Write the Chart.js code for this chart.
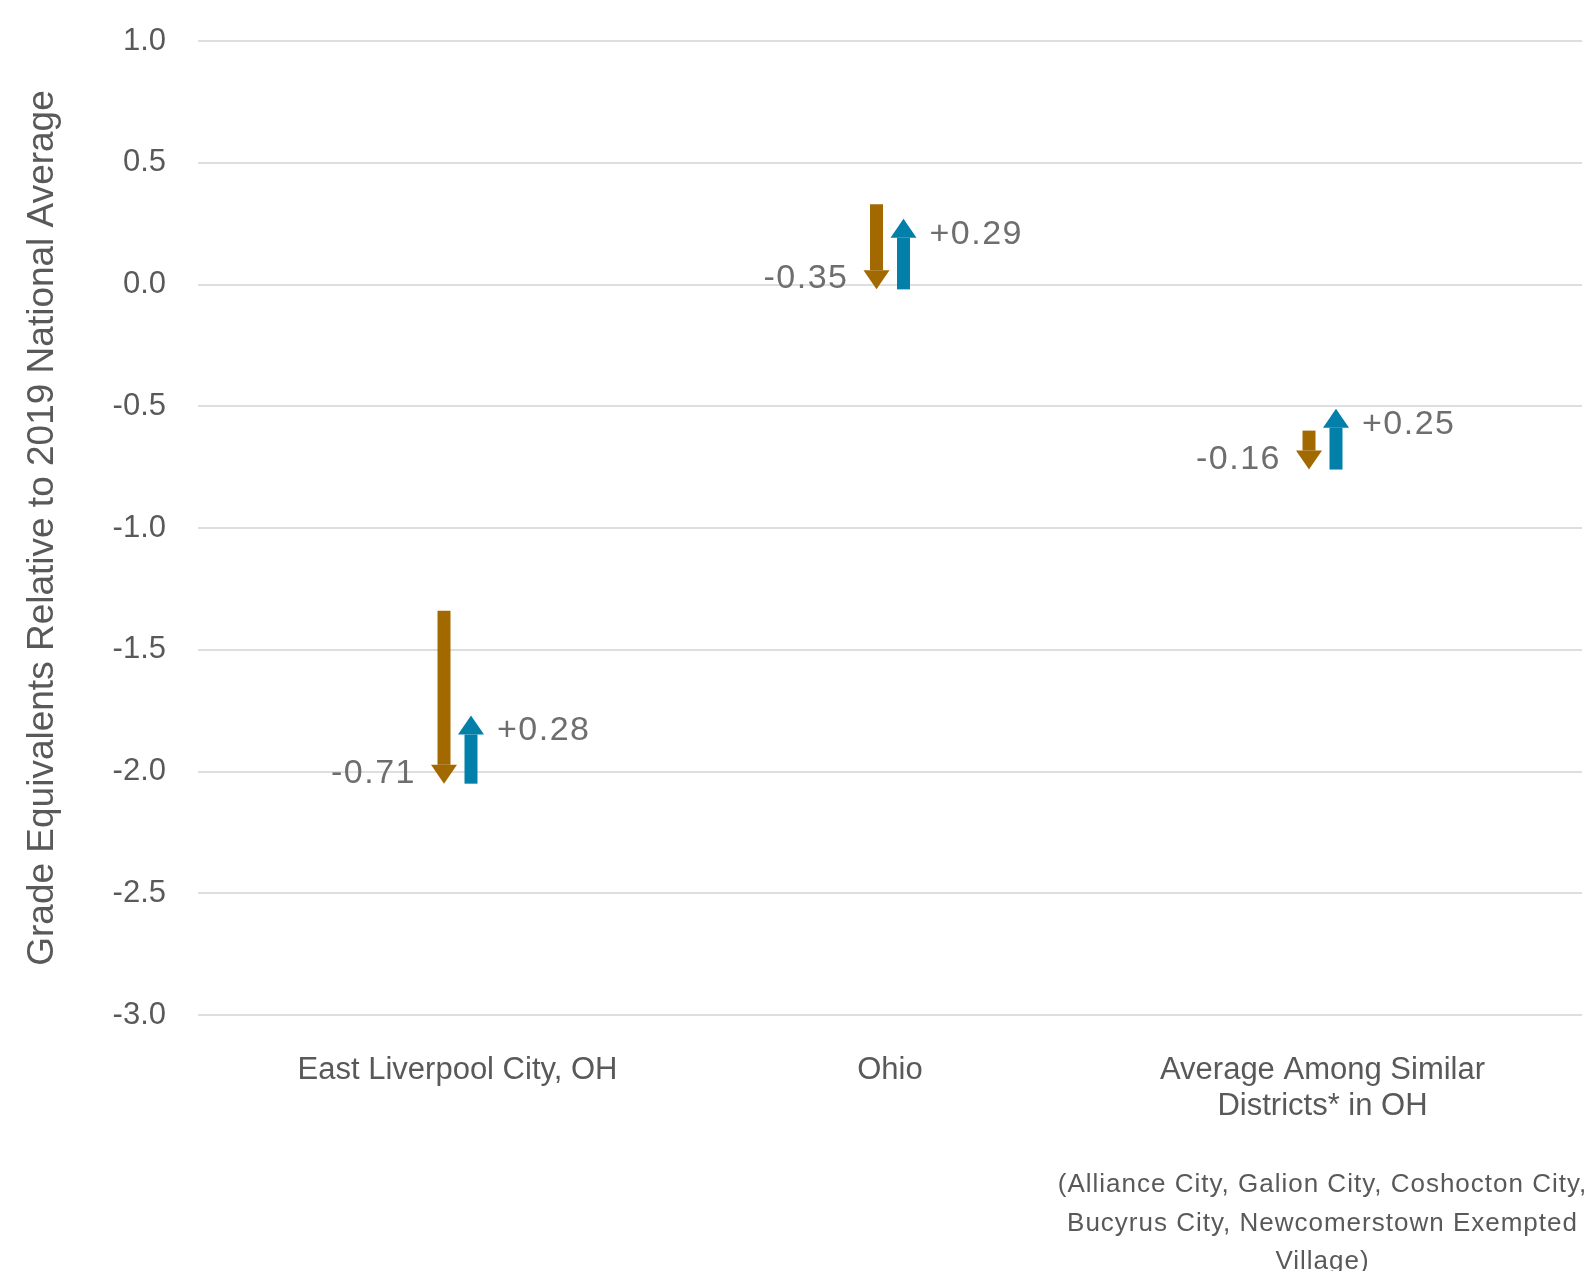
<!DOCTYPE html>
<html>
<head>
<meta charset="utf-8">
<script src="https://cdn.jsdelivr.net/npm/chart.js@4/dist/chart.umd.min.js"></script>
<style>
  html, body { margin: 0; padding: 0; background: #ffffff; }
  #wrap { width: 1595px; height: 1271px; position: relative; }
</style>
</head>
<body>
<div id="wrap"><canvas id="c"></canvas></div>
<script>
// ---- data ----
const categories = [
  ["East Liverpool City, OH"],
  ["Ohio"],
  ["Average Among Similar", "Districts* in OH"]
];
const startValues    = [-1.34, 0.33, -0.60];
const declineValues  = [-0.71, -0.35, -0.16];
const recoveryValues = [0.28, 0.29, 0.25];
const declineLabels  = ["-0.71", "-0.35", "-0.16"];
const recoveryLabels = ["+0.28", "+0.29", "+0.25"];
const noteLines = [
  "(Alliance City, Galion City, Coshocton City,",
  "Bucyrus City, Newcomerstown Exempted",
  "Village)"
];
const yAxisTitle = "Grade Equivalents Relative to 2019 National Average";

// ---- styles ----
const FONT = "'Liberation Sans', Arial, Helvetica, sans-serif";
const BROWN = "#A26900";
const BLUE = "#0380A9";
const TEXT = "#595959";
const LABEL = "#6e6e6e";
const HEAD_H = 19, HEAD_W = 26;

const declinePoints = categories.map((_, i) => ({ x: i, y: [startValues[i], startValues[i] + declineValues[i]] }));
const recoveryPoints = categories.map((_, i) => {
  const low = startValues[i] + declineValues[i];
  return { x: i, y: [low, low + recoveryValues[i]] };
});

const arrowPlugin = {
  id: 'arrows',
  afterDatasetsUpdate(chart) {
    const ys = chart.scales.y;
    chart.data.datasets.forEach((ds, d) => {
      const meta = chart.getDatasetMeta(d);
      meta.data.forEach((el, i) => {
        const [s, e] = ds.data[i].y;
        const tipPx = ys.getPixelForValue(e);
        const startPx = ys.getPixelForValue(s);
        const dir = Math.sign(startPx - tipPx);
        const newTip = tipPx + dir * HEAD_H;
        if (Math.abs(el.y - tipPx) < Math.abs(el.base - tipPx)) el.y = newTip; else el.base = newTip;
        el.$tip = tipPx; el.$dir = dir;
      });
    });
  },
  afterDatasetsDraw(chart) {
    const ctx = chart.ctx;
    chart.data.datasets.forEach((ds, d) => {
      const meta = chart.getDatasetMeta(d);
      meta.data.forEach((el, i) => {
        const tip = el.$tip, dir = el.$dir;
        ctx.save();
        ctx.fillStyle = ds.backgroundColor;
        ctx.beginPath();
        ctx.moveTo(el.x, tip);
        ctx.lineTo(el.x - HEAD_W / 2, tip + dir * HEAD_H);
        ctx.lineTo(el.x + HEAD_W / 2, tip + dir * HEAD_H);
        ctx.closePath();
        ctx.fill();
        // value label
        ctx.font = "34px " + FONT;
        ctx.fillStyle = LABEL;
        try { ctx.letterSpacing = "1.5px"; } catch (err) {}
        ctx.textBaseline = "alphabetic";
        if (dir < 0) {
          ctx.textAlign = "right";
          ctx.fillText(declineLabels[i], el.x - 28, tip - 1);
        } else {
          ctx.textAlign = "left";
          ctx.fillText(recoveryLabels[i], el.x + 26, tip + 25);
        }
        ctx.restore();
      });
    });
  },
  afterDraw(chart) {
    const ctx = chart.ctx;
    const xs = chart.scales.x;
    const cx = xs.getPixelForValue(2);
    ctx.save();
    ctx.font = "26px " + FONT;
    ctx.fillStyle = TEXT;
    try { ctx.letterSpacing = "1px"; } catch (err) {}
    ctx.textAlign = "center";
    ctx.textBaseline = "middle";
    noteLines.forEach((t, k) => {
      ctx.fillText(t, cx, xs.top + 170 + k * 38.5);
    });
    ctx.restore();
  }
};

new Chart(document.getElementById('c'), {
  type: 'bar',
  data: {
    datasets: [
      { label: 'Decline', data: declinePoints, backgroundColor: BROWN, borderWidth: 0 },
      { label: 'Recovery', data: recoveryPoints, backgroundColor: BLUE, borderWidth: 0 }
    ]
  },
  options: {
    responsive: true,
    maintainAspectRatio: false,
    animation: false,
    devicePixelRatio: 1,
    categoryPercentage: 0.1248,
    barPercentage: 0.4815,
    layout: { padding: { top: 41, right: 13, left: 0, bottom: 0 } },
    plugins: { legend: { display: false }, tooltip: { enabled: false } },
    scales: {
      x: {
        type: 'linear',
        min: -0.6,
        max: 2.6,
        offset: false,
        grid: { display: false, offset: false },
        border: { display: false },
        afterBuildTicks: (s) => { s.ticks = categories.map((_, i) => ({ value: i })); },
        afterFit: (s) => { s.height = 256; s.paddingLeft = 0; s.paddingRight = 0; },
        ticks: {
          autoSkip: false,
          maxRotation: 0,
          padding: 30,
          color: TEXT,
          font: { family: FONT, size: 31, lineHeight: 1.15 },
          callback: (v) => categories[Math.round(v)]
        }
      },
      y: {
        min: -3,
        max: 1,
        afterFit: (s) => { s.width = 198; s.paddingTop = 0; s.paddingBottom = 0; },
        grid: { color: '#dedede', lineWidth: 2, drawTicks: false },
        border: { display: false },
        ticks: {
          stepSize: 0.5,
          padding: 32,
          color: TEXT,
          font: { family: FONT, size: 31 },
          callback: (v) => Number(v).toFixed(1)
        },
        title: {
          display: true,
          text: yAxisTitle,
          color: TEXT,
          font: { family: FONT, size: 37, lineHeight: 1.2 },
          padding: { top: 21, bottom: 0 }
        }
      }
    }
  },
  plugins: [arrowPlugin]
});
</script>
</body>
</html>
